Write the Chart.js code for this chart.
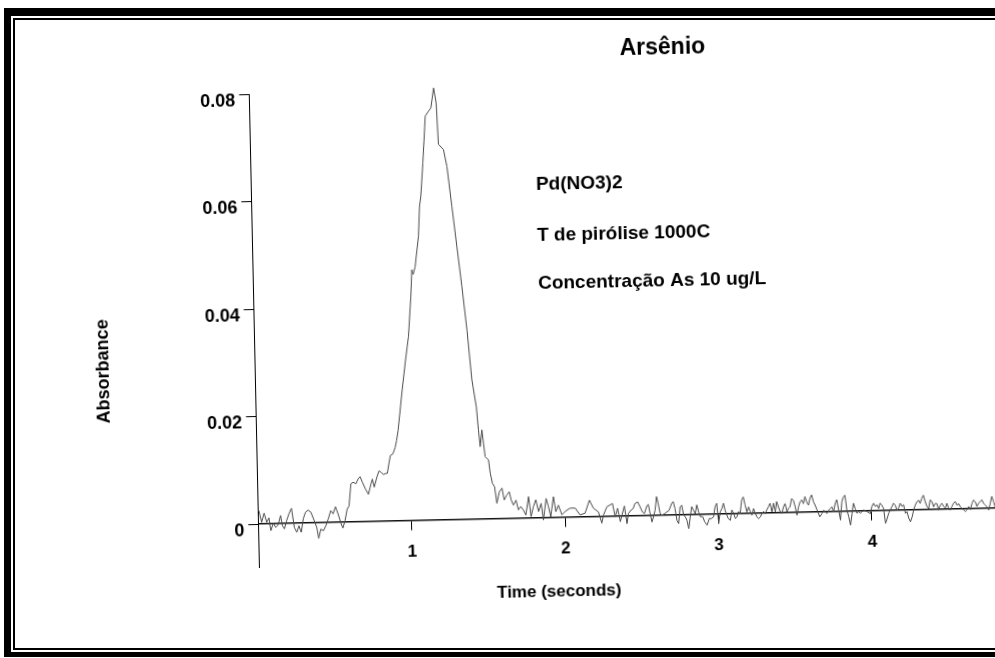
<!DOCTYPE html>
<html>
<head>
<meta charset="utf-8">
<script src="https://cdn.jsdelivr.net/npm/chart.js@4/dist/chart.umd.min.js"></script>
<style>
  html, body { margin: 0; padding: 0; background: #fff; overflow: hidden; width: 995px; height: 658px; }
  /* the scan is tilted a little, so the plot is turned round its origin */
  #wrap { position: absolute; left: 0; top: 0; width: 1010px; height: 640px;
          transform-origin: 258.3px 524px; transform: rotate(-1.23deg); }
  #frame { position: absolute; left: 4px; top: 8px; width: 1100px; height: 636px;
           border-left: 7px solid #000; border-top: 8px solid #000; border-bottom: 5px solid #000;
           pointer-events: none; }
  #frame div { position: absolute; left: 2px; top: 2px; right: -20px; bottom: 2px;
               border: 2px solid #000; border-right: none; }
</style>
</head>
<body>
<div id="wrap"><canvas id="chart" width="1010" height="640"></canvas></div>
<div id="frame"><div></div></div>
<script>
// trace: time (s) and absorbance
const time = [
  0.005, 0.022, 0.039, 0.055, 0.070, 0.081, 0.098, 0.113, 0.130, 0.146,
  0.157, 0.170, 0.185, 0.200, 0.218, 0.235, 0.250, 0.265, 0.279, 0.294,
  0.309, 0.326, 0.344, 0.365, 0.381, 0.392, 0.407, 0.424, 0.440, 0.457,
  0.474, 0.489, 0.505, 0.522, 0.539, 0.551, 0.566, 0.581, 0.594, 0.609,
  0.624, 0.642, 0.657, 0.670, 0.685, 0.703, 0.722, 0.740, 0.750, 0.761,
  0.779, 0.794, 0.809, 0.822, 0.838, 0.848, 0.859, 0.870, 0.887, 0.903,
  0.913, 0.924,
  0.954, 0.980, 1.005, 1.026, 1.036, 1.044, 1.058, 1.084, 1.095, 1.105,
  1.123, 1.145, 1.167, 1.183, 1.203, 1.218, 1.227, 1.259, 1.279, 1.306,
  1.333, 1.360, 1.387, 1.412, 1.437, 1.448, 1.457, 1.470, 1.479, 1.488,
  1.509, 1.519, 1.532, 1.545, 1.558, 1.575, 1.593, 1.606, 1.624, 1.640,
  1.651, 1.665, 1.683, 1.697, 1.713, 1.730, 1.745, 1.765, 1.779, 1.795,
  1.812, 1.828, 1.846, 1.859, 1.879, 1.893, 1.907, 1.927, 1.941, 1.958,
  1.980, 2.001, 2.034, 2.067, 2.098, 2.131, 2.161, 2.186, 2.218, 2.239,
  2.251, 2.274, 2.311, 2.327, 2.343, 2.360, 2.388, 2.403, 2.414,
  2.431, 2.446, 2.457, 2.475, 2.490, 2.505, 2.518, 2.533, 2.544, 2.555,
  2.566, 2.577, 2.588, 2.599, 2.609, 2.620, 2.631, 2.649, 2.664, 2.679,
  2.697, 2.707, 2.718, 2.729, 2.740, 2.751, 2.762, 2.773, 2.784, 2.794,
  2.805, 2.816, 2.827, 2.838, 2.849, 2.860, 2.871, 2.881, 2.897, 2.910,
  2.925, 2.940, 2.953, 2.968, 2.979, 2.990, 3.001, 3.012, 3.023, 3.034,
  3.044, 3.062, 3.077, 3.088, 3.099, 3.110, 3.120, 3.131, 3.142, 3.153,
  3.164, 3.175, 3.186, 3.197, 3.208, 3.218, 3.229, 3.240, 3.251, 3.262,
  3.273, 3.284, 3.295, 3.305, 3.316, 3.327, 3.338, 3.349, 3.360, 3.371,
  3.381, 3.392, 3.403, 3.414, 3.425, 3.436, 3.447, 3.458, 3.468, 3.479,
  3.490, 3.501, 3.512, 3.523, 3.534, 3.545, 3.555, 3.566, 3.577, 3.588,
  3.599, 3.610, 3.621,
  3.631, 3.647, 3.660, 3.675, 3.686, 3.697, 3.708, 3.719, 3.729, 3.740,
  3.751, 3.762, 3.773, 3.784, 3.795, 3.806, 3.816, 3.827, 3.838, 3.849,
  3.860, 3.871, 3.881, 3.892, 3.903, 3.914, 3.925, 3.936, 3.947, 3.968,
  3.990, 4.001, 4.012, 4.023, 4.034, 4.045, 4.055, 4.066, 4.077, 4.088,
  4.099, 4.110, 4.121, 4.132, 4.142, 4.153, 4.164, 4.175, 4.186, 4.197,
  4.208, 4.219, 4.229, 4.240, 4.251, 4.262, 4.273, 4.284, 4.295, 4.306,
  4.316, 4.327, 4.338, 4.349, 4.360, 4.371, 4.382, 4.393, 4.403, 4.414,
  4.425, 4.436, 4.447, 4.458, 4.469, 4.480, 4.490, 4.501, 4.512, 4.523,
  4.534, 4.545, 4.556, 4.567, 4.577, 4.588, 4.599, 4.610, 4.621, 4.632,
  4.643, 4.654, 4.664, 4.675, 4.686, 4.697, 4.708, 4.719, 4.730, 4.741,
  4.751, 4.762, 4.773, 4.784, 4.795, 4.806
];
const absorbance = [
  0.0025, 0.0003, 0.0020, 0.0003, 0.0011, -0.0013, 0.0001, -0.0007, -0.0002, 0.0015,
  -0.0004, -0.0010, 0.0005, 0.0017, 0.0028, -0.0008, -0.0017, -0.0005, -0.0017, 0.0008,
  0.0020, 0.0024, 0.0020, 0.0004, -0.0009, -0.0029, -0.0012, -0.0015, -0.0006, 0.0007,
  0.0022, 0.0016, 0.0029, 0.0015, -0.0002, -0.0011, 0.0003, 0.0024, 0.0030, 0.0071,
  0.0074, 0.0071, 0.0080, 0.0084, 0.0073, 0.0061, 0.0051, 0.0070, 0.0079, 0.0064,
  0.0082, 0.0094, 0.0091, 0.0087, 0.0089, 0.0089, 0.0106, 0.0122, 0.0125, 0.0137,
  0.0150, 0.0168,
  0.0238, 0.0294, 0.0343, 0.0417, 0.0467, 0.0458, 0.0472, 0.0529, 0.0584, 0.0603,
  0.0665, 0.0752, 0.0761, 0.0767, 0.0804, 0.0776, 0.0699, 0.0689, 0.0658, 0.0583,
  0.0508, 0.0434, 0.0353, 0.0260, 0.0210, 0.0166, 0.0135, 0.0166, 0.0141, 0.0116,
  0.0110, 0.0085, 0.0066, 0.0060, 0.0029, 0.0050, 0.0057, 0.0035, 0.0044, 0.0050,
  0.0035, 0.0025, 0.0034, 0.0016, 0.0022, 0.0015, 0.0006, 0.0040, 0.0003, 0.0021,
  0.0034, 0.0012, 0.0027, -0.0004, 0.0036, 0.0021, 0.0002, 0.0039, 0.0011, 0.0023,
  0.0005, 0.0011, 0.0017, 0.0017, 0.0004, 0.0007, 0.0031, 0.0016, 0.0009, -0.0012,
  0.0003, 0.0018, 0.0024, -0.0001, 0.0015, -0.0010, 0.0019, -0.0014, 0.0005,
  0.0011, 0.0014, 0.0023, 0.0026, 0.0017, 0.0007, 0.0004, 0.0017, 0.0021, 0.0004,
  -0.0012, -0.0002, 0.0010, 0.0035, 0.0022, 0.0004, 0.0000, 0.0003, 0.0006, 0.0009,
  0.0022, 0.0025, 0.0012, -0.0010, -0.0016, 0.0015, 0.0018, 0.0000, -0.0004, -0.0010,
  -0.0026, -0.0004, 0.0015, 0.0008, 0.0002, 0.0018, 0.0005, -0.0004, -0.0004, -0.0014,
  -0.0020, -0.0008, -0.0008, -0.0005, 0.0014, 0.0020, -0.0017, 0.0004, 0.0010, 0.0020,
  0.0007, -0.0008, -0.0012, 0.0007, 0.0001, -0.0009, -0.0006, 0.0004, 0.0000, 0.0025,
  0.0031, 0.0016, 0.0003, 0.0012, 0.0003, -0.0003, 0.0009, 0.0000, -0.0007, -0.0010,
  -0.0007, 0.0000, 0.0003, -0.0001, 0.0006, 0.0012, 0.0018, 0.0002, 0.0018, 0.0002,
  0.0021, 0.0011, 0.0002, -0.0001, 0.0011, 0.0017, 0.0002, 0.0008, 0.0011, 0.0026,
  0.0023, 0.0011, -0.0005, 0.0010, 0.0020, 0.0023, 0.0016, 0.0029, 0.0019, 0.0013,
  0.0026, 0.0032, 0.0019,
  0.0013, 0.0001, -0.0009, -0.0003, 0.0003, 0.0000, -0.0003, 0.0003, 0.0006, 0.0009,
  0.0000, 0.0015, 0.0022, 0.0003, -0.0016, 0.0018, 0.0027, 0.0030, 0.0002, -0.0010,
  -0.0026, -0.0004, 0.0015, 0.0005, -0.0004, -0.0001, -0.0004, -0.0001, 0.0002, -0.0001,
  -0.0005, 0.0008, 0.0014, 0.0008, 0.0011, 0.0004, 0.0014, 0.0010, 0.0004, -0.0024,
  -0.0015, -0.0005, 0.0001, 0.0007, 0.0013, 0.0010, 0.0000, 0.0004, 0.0013, 0.0007,
  0.0010, -0.0006, -0.0003, -0.0015, -0.0022, -0.0013, 0.0000, 0.0009, 0.0015, 0.0018,
  0.0012, 0.0021, 0.0027, 0.0015, 0.0006, 0.0002, 0.0018, 0.0015, 0.0005, 0.0011,
  0.0011, -0.0001, 0.0008, 0.0011, 0.0005, 0.0002, 0.0011, 0.0002, -0.0002, 0.0005,
  0.0011, 0.0014, 0.0007, 0.0010, 0.0004, 0.0001, -0.0002, -0.0005, -0.0002, 0.0004,
  -0.0002, 0.0010, 0.0016, 0.0013, 0.0004, 0.0010, 0.0013, 0.0016, 0.0009, 0.0006,
  0.0003, -0.0003, 0.0009, 0.0022, 0.0012, 0.0000
];

const xTickValues = [1, 2, 3, 4];
const xTickLabels = ['1', '2', '3', '4'];
const yTickValues = [0, 0.02, 0.04, 0.06, 0.08];
const yTickLabels = ['0', '0.02', '0.04', '0.06', '0.08'];

const titleText = 'Arsênio';
const xTitle = 'Time (seconds)';
const yTitle = 'Absorbance';
const notes = ['Pd(NO3)2', 'T de pirólise 1000C', 'Concentração As 10 ug/L'];

const FONT = '"Liberation Sans", Arial, Helvetica, sans-serif';
Chart.defaults.font.family = FONT;
Chart.defaults.font.weight = 'bold';
Chart.defaults.color = '#000';

const points = time.map((t, i) => ({ x: t, y: absorbance[i] }));

// title, axis names and the note block, placed in data units
const captions = {
  id: 'captions',
  afterDraw(chart) {
    const { ctx, scales: { x, y } } = chart;
    ctx.save();
    ctx.fillStyle = '#000';
    ctx.textBaseline = 'middle';

    ctx.font = 'bold 23px ' + FONT;
    ctx.textAlign = 'center';
    ctx.fillText(titleText, x.getPixelForValue(2.70), y.getPixelForValue(0.0869));

    ctx.font = 'bold 17px ' + FONT;
    ctx.fillText(xTitle, x.getPixelForValue(1.952), y.getPixelForValue(-0.0139));

    ctx.save();
    ctx.translate(chart.chartArea.left - 151, y.getPixelForValue(0.029));
    ctx.rotate(-Math.PI / 2);
    ctx.font = 'bold 18px ' + FONT;
    ctx.fillText(yTitle, 0, 0);
    ctx.restore();

    ctx.font = 'bold 19px ' + FONT;
    ctx.textAlign = 'left';
    const noteY = [0.0620, 0.0526, 0.0435];
    notes.forEach((n, i) => ctx.fillText(n, x.getPixelForValue(1.857), y.getPixelForValue(noteY[i])));
    ctx.restore();
  }
};

new Chart(document.getElementById('chart'), {
  type: 'line',
  data: {
    datasets: [{
      label: 'As',
      data: points,
      borderColor: '#4a4a4a',
      borderWidth: 1,
      pointRadius: 0,
      tension: 0,
      clip: false
    }]
  },
  options: {
    responsive: false,
    animation: false,
    // x axis sits at y = 0 and reserves no room, so the bottom is set here
    layout: { padding: { top: 94, left: 0, right: 0, bottom: 73 } },
    plugins: { legend: { display: false }, tooltip: { enabled: false } },
    scales: {
      x: {
        type: 'linear',
        min: 0,
        max: 4.9,
        position: { y: 0 },
        afterBuildTicks: s => { s.ticks = xTickValues.map(v => ({ value: v })); },
        grid: { drawOnChartArea: false, drawTicks: true, tickLength: 9, color: '#000', lineWidth: 1 },
        border: { display: true, color: '#111', width: 1.6 },
        ticks: {
          color: '#000',
          font: { size: 17, weight: 'bold' },
          padding: 12,
          maxRotation: 0,
          callback: (v, i) => xTickLabels[i]
        }
      },
      y: {
        type: 'linear',
        min: -0.008,
        max: 0.08,
        afterFit: s => { s.width = 258.3; },
        afterBuildTicks: s => { s.ticks = yTickValues.map(v => ({ value: v })); },
        grid: { drawOnChartArea: false, drawTicks: true, tickLength: 10, color: '#000', lineWidth: 1 },
        border: { display: true, color: '#000', width: 1 },
        ticks: {
          color: '#000',
          font: { size: 18, weight: 'bold' },
          padding: 4,
          labelOffset: 7,
          callback: (v, i) => yTickLabels[i]
        }
      }
    }
  },
  plugins: [captions]
});
</script>
</body>
</html>
